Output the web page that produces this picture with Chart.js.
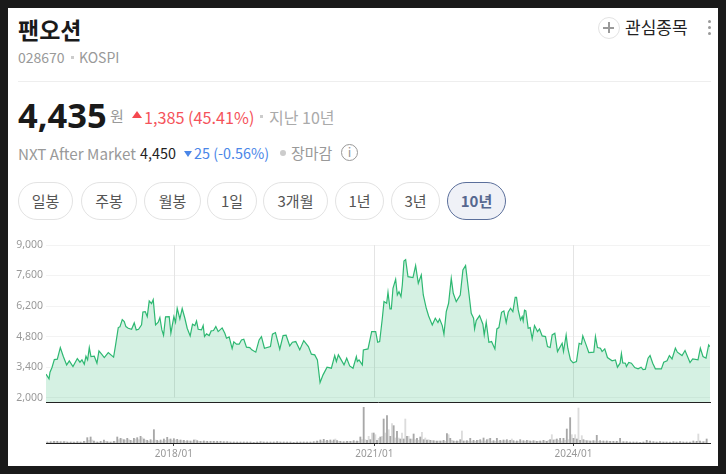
<!DOCTYPE html>
<html>
<head>
<meta charset="utf-8">
<script src="https://cdn.jsdelivr.net/npm/chart.js@4"></script>
<style>
html, body { margin: 0; padding: 0; background: #1a1a1a; width: 726px; height: 474px; overflow: hidden; }
#panel { position: absolute; left: 8px; top: 8px; width: 710px; height: 458px; background: #fff; }
.t { position: absolute; white-space: nowrap; line-height: 1; font-family: "Noto Sans CJK KR", "Noto Sans", sans-serif; }
.btn { position: absolute; top: 182px; height: 36px; border: 1px solid #e3e3e3; border-radius: 19px; background: #fff; color: #555;
  font: 15px/36px "Noto Sans CJK KR", sans-serif; text-align: center; box-sizing: content-box; }
.btn.on { border-color: #5b6f9b; background: #eff1f7; color: #56678f; font-weight: 700; }
.wrap { position: absolute; left: 0; width: 726px; }
</style>
</head>
<body>
<div id="panel"></div>

<div class="t" style="left:18px;top:18px;font-size:23px;font-weight:700;color:#1a1a1a">팬오션</div>
<div class="t" style="left:18px;top:50px;font-size:14px;color:#999">028670</div>
<div style="position:absolute;left:71px;top:56px;width:3px;height:3px;background:#ccc"></div>
<div class="t" style="left:79px;top:50px;font-size:14px;color:#999">KOSPI</div>
<div style="position:absolute;left:18px;top:81px;width:693px;height:1px;background:#eee"></div>

<div style="position:absolute;left:598px;top:17px;width:20px;height:20px;border:1px solid #e3e3e3;border-radius:50%"></div>
<div style="position:absolute;left:603px;top:27px;width:11px;height:2px;background:#999"></div>
<div style="position:absolute;left:608px;top:22px;width:2px;height:11px;background:#999"></div>
<div class="t" style="left:625px;top:18px;font-size:17px;color:#222">관심종목</div>
<div style="position:absolute;left:708px;top:20px;width:3px;height:3px;border-radius:50%;background:#999"></div>
<div style="position:absolute;left:708px;top:26px;width:3px;height:3px;border-radius:50%;background:#999"></div>
<div style="position:absolute;left:708px;top:32px;width:3px;height:3px;border-radius:50%;background:#999"></div>

<div class="t" style="left:18px;top:98px;font-size:34.5px;font-weight:700;color:#1a1a1a;font-family:'Noto Sans',sans-serif">4,435</div>
<div class="t" style="left:110px;top:108px;font-size:15px;color:#999">원</div>
<div style="position:absolute;left:132px;top:111px;width:0;height:0;border-left:5px solid transparent;border-right:5px solid transparent;border-bottom:7px solid #f5484f"></div>
<div class="t" style="left:144px;top:109px;font-size:16.2px;color:#f5535a">1,385 (45.41%)</div>
<div style="position:absolute;left:260px;top:115px;width:3px;height:3px;background:#ccc"></div>
<div class="t" style="left:269px;top:109px;font-size:16px;color:#aaa">지난 10년</div>

<div class="t" style="left:18px;top:146px;font-size:15.2px;color:#999">NXT After Market</div>
<div class="t" style="left:140px;top:146px;font-size:14.4px;color:#222">4,450</div>
<div style="position:absolute;left:184px;top:151px;width:0;height:0;border-left:4px solid transparent;border-right:4px solid transparent;border-top:6px solid #4a86e8"></div>
<div class="t" style="left:194px;top:146px;font-size:14.4px;color:#4a86e8">25 (-0.56%)</div>
<div style="position:absolute;left:280px;top:150px;width:6px;height:6px;border-radius:50%;background:#ccc"></div>
<div class="t" style="left:291px;top:145px;font-size:15px;color:#999">장마감</div>
<div style="position:absolute;left:341px;top:144px;width:15px;height:15px;border:1.5px solid #999;border-radius:50%"></div>
<div class="t" style="left:345px;top:145px;width:9px;text-align:center;font-size:13px;color:#999">i</div>

<div class="btn" style="left:18px;width:53px">일봉</div>
<div class="btn" style="left:81px;width:54px">주봉</div>
<div class="btn" style="left:144px;width:55px">월봉</div>
<div class="btn" style="left:207px;width:48px">1일</div>
<div class="btn" style="left:263px;width:63px">3개월</div>
<div class="btn" style="left:335px;width:47px">1년</div>
<div class="btn" style="left:391px;width:47px">3년</div>
<div class="btn on" style="left:447px;width:57px">10년</div>

<div class="wrap" style="top:235px;height:172px"><canvas id="priceChart"></canvas></div>
<div class="wrap" style="top:405px;height:61px"><canvas id="volumeChart"></canvas></div>

<script>
// price line, years as decimals
const priceYears = [
  2016.08,2016.125,2016.14,2016.17,2016.205,2016.25,2016.295,2016.34,2016.39,2016.43,2016.485,2016.55,2016.59,2016.62,2016.655,2016.68,2016.705,2016.73,2016.755,2016.805,2016.845,2016.875,2016.915,2016.955,
  2017.015,2017.095,2017.125,2017.165,2017.19,2017.225,2017.255,2017.28,2017.315,2017.365,2017.405,2017.435,2017.47,2017.515,2017.535,2017.57,2017.6,2017.63,2017.665,2017.69,2017.725,2017.765,2017.79,2017.82,2017.845,2017.875,2017.93,2017.955,
  2018.0,2018.025,2018.05,2018.09,2018.125,2018.165,2018.2,2018.245,2018.28,2018.315,2018.34,2018.365,2018.415,2018.44,2018.46,2018.49,2018.53,2018.56,2018.595,2018.63,2018.665,2018.725,2018.765,2018.79,2018.83,2018.875,2018.9,2018.94,2018.98,
  2019.015,2019.05,2019.09,2019.14,2019.17,2019.23,2019.28,2019.315,2019.36,2019.45,2019.48,2019.525,2019.59,2019.64,2019.685,2019.74,2019.78,2019.83,2019.89,2019.95,
  2020.02,2020.065,2020.115,2020.155,2020.195,2020.24,2020.3,2020.365,2020.415,2020.44,2020.47,2020.555,2020.595,2020.64,2020.69,2020.74,2020.755,2020.78,2020.83,2020.845,2020.915,2020.97,
  2021.005,2021.03,2021.06,2021.09,2021.13,2021.155,2021.195,2021.215,2021.245,2021.265,2021.29,2021.33,2021.355,2021.38,2021.41,2021.43,2021.455,2021.48,2021.515,2021.59,2021.63,2021.67,2021.715,2021.745,2021.79,2021.825,2021.88,2021.925,2021.965,2021.99,
  2022.03,2022.055,2022.09,2022.125,2022.165,2022.195,2022.24,2022.3,2022.34,2022.38,2022.43,2022.465,2022.5,2022.515,2022.54,2022.59,2022.64,2022.66,2022.69,2022.73,2022.77,2022.82,2022.85,2022.88,2022.92,2022.955,2022.99,
  2023.02,2023.055,2023.09,2023.125,2023.145,2023.17,2023.205,2023.23,2023.245,2023.265,2023.285,2023.32,2023.35,2023.38,2023.415,2023.46,2023.49,2023.53,2023.58,2023.61,2023.65,2023.68,2023.72,2023.76,2023.83,2023.85,2023.89,2023.915,2023.955,2023.995,
  2024.045,2024.085,2024.12,2024.14,2024.19,2024.23,2024.305,2024.33,2024.36,2024.405,2024.43,2024.47,2024.51,2024.58,2024.63,2024.66,2024.7,2024.72,2024.74,2024.78,2024.795,2024.83,2024.87,2024.92,2024.97,
  2025.015,2025.045,2025.08,2025.12,2025.15,2025.19,2025.23,2025.32,2025.355,2025.405,2025.44,2025.48,2025.53,2025.56,2025.63,2025.675,2025.75,2025.79,2025.87,2025.905,2025.945,2025.99,2026.03,2026.05
];
const prices = [
  3071,2857,3163,3377,3744,3759,4294,3881,3499,3683,3423,3790,3621,3728,3530,3896,3728,4294,3881,3896,3576,4141,3988,3835,
  4064,3851,4416,5211,5241,5577,5486,5256,5180,5134,5424,5104,5134,5333,5929,5944,5715,6433,6311,6494,5333,5455,5669,5104,4859,5700,5715,4951,
  5715,5455,6097,5608,6082,5638,5180,4829,5363,5302,5516,5134,5104,5302,4798,4920,4844,5058,5073,5256,5027,5195,4951,4722,4783,4248,4554,4447,4447,
  4645,4676,4309,4294,4187,4080,4645,4798,4263,4340,4905,4981,4217,4844,4859,4370,4538,4569,4187,4615,
  4340,3988,3958,3728,2689,3041,3392,3346,3927,3652,3958,3499,3805,3453,3346,3881,3652,3728,3499,4187,4233,5027,
  5027,5027,4538,4569,5638,6402,6326,6830,6066,6066,7014,7426,6708,6861,6632,7166,8267,8328,7548,7503,8053,7243,7625,6708,6097,5745,5333,5638,5440,5608,
  5302,4905,5944,6326,7472,6784,6402,6708,7854,8053,6784,5868,5638,5149,5532,5761,5363,4874,5455,4538,4569,4233,5149,5211,5913,5974,5440,
  5913,6097,5944,6601,6601,6020,5562,5715,5516,6005,5974,5180,5211,4691,5302,5027,5149,4829,4798,4340,4294,4874,4951,4110,4492,4110,4874,4263,3728,3591,
  3652,4492,4447,4829,4416,4064,4080,4798,4294,4263,4110,4233,3835,3683,3728,3392,3576,4019,3591,3576,3423,3606,3576,3377,3316,
  3392,3285,3300,3805,3927,3576,3316,3316,3621,3683,3927,3774,4263,4080,3927,4156,3606,3774,3728,4263,3881,3805,4416,4330
];

// volume bars, two tones alternating every 0.05 year
const volumeStart = 2016.10;
const volumeDown = [
  3,4,5,5,4,4,3,3,3,4,3,5,16,18,6,3,5,9,
  4,3,5,18,14,10,14,8,14,16,20,12,8,10,40,8,9,12,17,12,
  13,11,9,8,7,6,9,7,5,6,5,5,5,5,5,4,4,3,3,3,
  3,3,3,3,2,3,4,3,3,3,3,4,3,3,3,3,2,3,3,3,
  3,3,4,6,9,11,8,9,9,7,5,4,5,5,7,6,18,108,8,10,
  30,8,18,72,82,20,52,35,12,12,20,12,27,14,18,10,9,8,7,6,
  6,8,28,14,6,6,10,6,7,14,8,8,10,15,10,14,7,14,8,9,
  10,8,7,6,10,7,8,6,7,5,6,8,5,10,9,12,14,14,42,76,
  14,12,8,10,7,6,7,23,7,6,6,5,5,5,14,4,4,3,3,3,
  2,3,8,6,4,3,4,3,3,3,4,3,4,3,3,3,6,5,6,4,12
];
const volumeUp = [
  2,3,4,3,3,4,2,3,2,3,2,4,8,9,3,2,3,5,
  3,3,4,10,12,9,10,6,12,10,16,9,5,7,9,5,6,8,10,8,
  9,7,7,5,6,4,10,5,4,4,3,4,3,3,3,3,3,2,2,2,
  2,2,2,2,2,2,3,2,2,2,2,3,2,2,2,2,2,2,2,2,
  2,2,3,4,5,6,6,5,12,5,3,3,4,4,4,5,10,10,20,30,
  25,14,20,30,40,58,15,15,30,72,20,12,10,8,32,15,10,7,6,6,
  6,5,25,8,5,5,36,6,5,5,5,8,6,6,12,5,5,6,6,7,
  6,12,4,5,6,5,7,5,6,5,4,6,8,25,10,8,6,8,10,25,
  25,105,22,8,7,6,6,5,5,4,4,4,3,3,3,3,2,2,2,2,
  2,2,3,3,3,2,3,3,2,2,3,2,3,2,2,3,3,27,3,4
];

const yTicks = [2000, 3400, 4800, 6200, 7600, 9000];
const xTickYears = [2018, 2021.01, 2024];
const xTickLabels = ['2018/01', '2021/01', '2024/01'];

const xMin = 2016.08, xMax = 2026.05;
const tickFont = { family: '"Noto Sans", sans-serif', size: 10.5 };

const yearLines = {
  id: 'yearLines',
  beforeDatasetsDraw(chart) {
    const { ctx, scales: { x, y } } = chart;
    ctx.save();
    ctx.strokeStyle = '#e4e4e4';
    ctx.lineWidth = 1;
    xTickYears.forEach(v => {
      const px = Math.round(x.getPixelForValue(v)) + 0.5;
      ctx.beginPath();
      ctx.moveTo(px, y.getPixelForValue(9000));
      ctx.lineTo(px, y.getPixelForValue(2000));
      ctx.stroke();
    });
    ctx.restore();
  }
};

new Chart(document.getElementById('priceChart'), {
  type: 'line',
  data: {
    datasets: [{
      data: priceYears.map((yr, i) => ({ x: yr, y: prices[i] })),
      borderColor: '#2eb872',
      borderWidth: 1.2,
      backgroundColor: 'rgba(46,184,114,0.2)',
      fill: 'start',
      pointRadius: 0,
      tension: 0
    }]
  },
  plugins: [yearLines],
  options: {
    responsive: true,
    maintainAspectRatio: false,
    animation: false,
    layout: { padding: { top: 10, right: 16, bottom: 0, left: 0 } },
    plugins: { legend: { display: false }, tooltip: { enabled: false } },
    scales: {
      x: {
        type: 'linear', min: xMin, max: xMax,
        grid: { display: false },
        border: { color: '#222', width: 1 },
        ticks: { display: false },
        afterFit(s) { s.height = 5; s.paddingLeft = 0; s.paddingRight = 0; }
      },
      y: {
        min: 1795, max: 9000,
        afterBuildTicks(s) { s.ticks = yTicks.map(v => ({ value: v })); },
        afterFit(s) { s.width = 46; s.paddingTop = 0; s.paddingBottom = 0; },
        border: { display: false },
        grid: { color: '#f3f3f3', drawTicks: false },
        ticks: { color: '#999', font: tickFont, padding: 3, callback: v => v.toLocaleString('en-US') }
      }
    }
  }
});

new Chart(document.getElementById('volumeChart'), {
  type: 'bar',
  data: {
    datasets: [
      {
        data: volumeDown.map((v, i) => ({ x: volumeStart + i * 0.05, y: v })),
        backgroundColor: '#a8a8a8',
        barThickness: 1.2,
        grouped: false
      },
      {
        data: volumeUp.map((v, i) => ({ x: volumeStart + 0.025 + i * 0.05, y: v })),
        backgroundColor: '#dcdcdc',
        barThickness: 1.2,
        grouped: false
      }
    ]
  },
  options: {
    responsive: true,
    maintainAspectRatio: false,
    animation: false,
    layout: { padding: { top: 2, right: 16, bottom: 0, left: 46 } },
    plugins: { legend: { display: false }, tooltip: { enabled: false } },
    scales: {
      x: {
        type: 'linear', min: xMin, max: xMax,
        offset: false,
        afterBuildTicks(s) { s.ticks = xTickYears.map(v => ({ value: v })); },
        afterFit(s) { s.height = 23; },
        border: { color: '#222', width: 1 },
        grid: { drawOnChartArea: false, offset: false, color: '#444', tickLength: 3 },
        ticks: {
          color: '#999', font: { family: tickFont.family, size: 10 }, padding: 2, maxRotation: 0, autoSkip: false, includeBounds: false,
          callback: (v) => xTickLabels[xTickYears.indexOf(v)]
        }
      },
      y: { display: false, min: 0, max: 108 }
    }
  }
});
</script>
</body>
</html>
